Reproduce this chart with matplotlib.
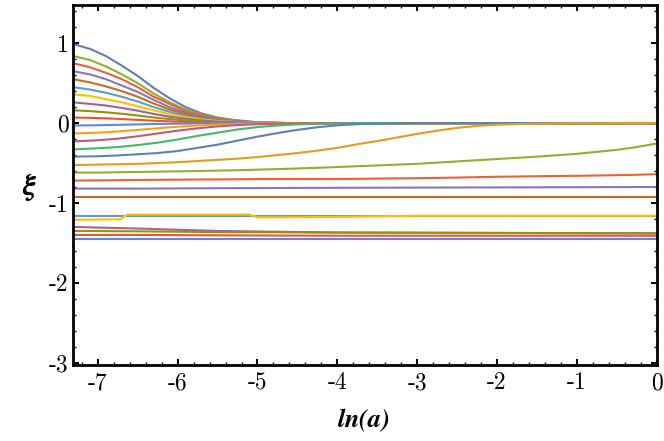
import numpy as np
import matplotlib
matplotlib.use("Agg")
from matplotlib import pyplot as plt
from matplotlib.ticker import MultipleLocator

# x grids (ln a)
x_up = [-7.31, -7.1, -6.9, -6.7, -6.5, -6.3, -6.1, -5.9, -5.7, -5.5, -5.3, -5.0, -4.6, 0.0]
x_lo = [-7.31, -7.0, -6.75, -6.5, -6.25, -6.0, -5.75, -5.5, -5.25, -5.0, -4.75, -4.5, -4.25,
        -4.0, -3.75, -3.5, -3.25, -3.0, -2.75, -2.5, -2.25, -2.0, -1.5, -1.0, -0.5, -0.25, 0.0]
x_flat = [-7.31, -6.5, -5.5, -4.0, -2.0, 0.0]
x_yel = [-7.31, -6.72, -6.63, -5.1, -5.0, -4.0, -3.0, 0.0]

# curves that decay from above towards zero
up_vals = [
    [0.99, 0.93, 0.84, 0.72, 0.59, 0.44, 0.31, 0.20, 0.12, 0.07, 0.04, 0.01, 0, 0],
    [0.84, 0.79, 0.71, 0.61, 0.50, 0.37, 0.26, 0.17, 0.105, 0.06, 0.035, 0.007, 0, 0],
    [0.75, 0.70, 0.63, 0.55, 0.45, 0.33, 0.24, 0.15, 0.095, 0.05, 0.03, 0.006, 0, 0],
    [0.65, 0.61, 0.55, 0.47, 0.39, 0.29, 0.20, 0.13, 0.08, 0.045, 0.026, 0.005, 0, 0],
    [0.55, 0.51, 0.46, 0.40, 0.33, 0.245, 0.17, 0.11, 0.07, 0.04, 0.022, 0.004, 0, 0],
    [0.45, 0.42, 0.38, 0.33, 0.27, 0.20, 0.14, 0.09, 0.056, 0.03, 0.018, 0.004, 0, 0],
    [0.36, 0.34, 0.30, 0.26, 0.21, 0.16, 0.11, 0.074, 0.045, 0.025, 0.014, 0.003, 0, 0],
    [0.26, 0.24, 0.22, 0.19, 0.155, 0.115, 0.08, 0.053, 0.033, 0.018, 0.01, 0.002, 0, 0],
    [0.16, 0.15, 0.135, 0.117, 0.095, 0.07, 0.05, 0.033, 0.02, 0.011, 0.006, 0.001, 0, 0],
    [0.07, 0.065, 0.06, 0.05, 0.04, 0.03, 0.022, 0.014, 0.009, 0.005, 0.003, 0.0, 0, 0],
]
up_colors = ['#5E81B5', '#8FB032', '#EB6235', '#8778B3', '#C56E1A',
             '#5D9EC7', '#FFBF00', '#A5609D', '#929600', '#E95536']

# curves that rise from below towards zero (same grid as x_lo)
mid_vals = [
    [-0.03, -0.027, -0.022, -0.016, -0.011, -0.007, -0.004, -0.002, -0.001, 0,
     0, 0, 0, 0, 0, 0, 0, 0, 0, 0, 0, 0, 0, 0, 0, 0, 0],
    [-0.13, -0.12, -0.105, -0.085, -0.065, -0.045, -0.03, -0.018, -0.01, -0.005,
     -0.002, 0, 0, 0, 0, 0, 0, 0, 0, 0, 0, 0, 0, 0, 0, 0, 0],
    [-0.23, -0.215, -0.195, -0.165, -0.13, -0.095, -0.065, -0.042, -0.025, -0.014,
     -0.007, -0.003, -0.001, 0, 0, 0, 0, 0, 0, 0, 0, 0, 0, 0, 0, 0, 0],
    [-0.33, -0.315, -0.30, -0.275, -0.245, -0.205, -0.16, -0.12, -0.08, -0.05,
     -0.03, -0.016, -0.008, -0.004, -0.002, 0, 0, 0, 0, 0, 0, 0, 0, 0, 0, 0, 0],
]
mid_colors = ['#6685D9', '#F89F13', '#BC5B80', '#47B66D']

# second family
lo_vals = [
    [-0.42, -0.415, -0.405, -0.39, -0.375, -0.35, -0.31, -0.27, -0.22, -0.17,
     -0.125, -0.085, -0.052, -0.028, -0.014, -0.007, -0.003, 0, 0, 0, 0, 0, 0, 0, 0, 0, 0],
    [-0.525, -0.52, -0.515, -0.51, -0.50, -0.49, -0.475, -0.46, -0.445, -0.425,
     -0.40, -0.375, -0.345, -0.31, -0.265, -0.225, -0.18, -0.135, -0.095, -0.06,
     -0.035, -0.02, -0.006, -0.002, 0, 0, 0],
    [-0.62, -0.62, -0.615, -0.612, -0.608, -0.604, -0.60, -0.595, -0.59, -0.583,
     -0.576, -0.568, -0.56, -0.55, -0.54, -0.53, -0.52, -0.51, -0.495, -0.48,
     -0.465, -0.45, -0.42, -0.385, -0.335, -0.30, -0.255],
    [-0.72, -0.717, -0.715, -0.712, -0.71, -0.708, -0.706, -0.705, -0.703, -0.70,
     -0.70, -0.70, -0.70, -0.70, -0.698, -0.695, -0.692, -0.69, -0.686, -0.682,
     -0.677, -0.672, -0.665, -0.66, -0.652, -0.647, -0.64],
]
lo_colors = ['#5E81B5', '#E19C24', '#8FB032', '#EB6235']

flat_vals = [
    [-0.82, -0.82, -0.815, -0.81, -0.805, -0.80],
    [-0.92, -0.92, -0.92, -0.92, -0.92, -0.92],
    [-1.16, -1.16, -1.16, -1.16, -1.16, -1.16],
]
flat_colors = ['#8778B3', '#C56E1A', '#5D9EC7']

yellow_vals = [-1.21, -1.205, -1.145, -1.145, -1.18, -1.175, -1.16, -1.16]
yellow_color = '#FFBF00'

bottom_vals = [
    [-1.30, -1.32, -1.35, -1.37, -1.375, -1.38],
    [-1.35, -1.355, -1.365, -1.37, -1.375, -1.38],
    [-1.40, -1.40, -1.405, -1.41, -1.41, -1.41],
    [-1.45, -1.45, -1.45, -1.45, -1.45, -1.45],
]
bottom_colors = ['#A5609D', '#929600', '#E95536', '#6685D9']

xticks = [-7, -6, -5, -4, -3, -2, -1, 0]
yticks = [-3, -2, -1, 0, 1]

plt.rcParams['font.family'] = 'cmr10'
plt.rcParams['axes.unicode_minus'] = False

fig = plt.figure(figsize=(6.64, 4.41), dpi=100)
ax = fig.add_axes([0.110, 0.172, 0.879, 0.817])

lw = 1.5
for v, c in zip(up_vals, up_colors):
    ax.plot(x_up, v, color=c, lw=lw)
for v, c in zip(mid_vals, mid_colors):
    ax.plot(x_lo, v, color=c, lw=lw)
for v, c in zip(lo_vals, lo_colors):
    ax.plot(x_lo, v, color=c, lw=lw)
for v, c in zip(flat_vals, flat_colors):
    ax.plot(x_flat, v, color=c, lw=lw)
ax.plot(x_yel, yellow_vals, color=yellow_color, lw=lw)
for v, c in zip(bottom_vals, bottom_colors):
    ax.plot(x_flat, v, color=c, lw=lw)

ax.set_xlim(-7.31, 0)
ax.set_ylim(-3.03, 1.48)
ax.set_xticks(xticks)
ax.set_yticks(yticks)
ax.xaxis.set_minor_locator(MultipleLocator(0.2))
ax.yaxis.set_minor_locator(MultipleLocator(0.2))
ax.tick_params(which='both', direction='in', top=True, right=True, labelsize=17)
ax.tick_params(which='major', length=4, width=1.5)
ax.tick_params(which='minor', length=2.2, width=1.0)
ax.tick_params(axis='x', pad=5)
ax.tick_params(axis='y', pad=3)
for s in ax.spines.values():
    s.set_linewidth(2.0)

fig.text(364 / 664, 1 - 420 / 441, r'$\mathbfit{ln(a)}$', math_fontfamily='stix',
         fontsize=19, ha='center', va='center')
fig.text(30 / 664, 1 - 187 / 441, r'$\mathbfit{\xi}$', math_fontfamily='stix',
         fontsize=22, ha='center', va='center')

fig.savefig('out.png', dpi=100)
